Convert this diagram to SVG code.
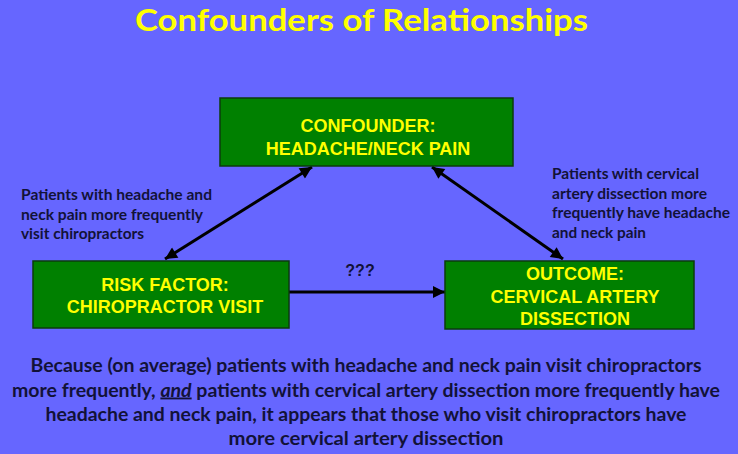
<svg xmlns="http://www.w3.org/2000/svg" width="738" height="454" viewBox="0 0 738 454">
<defs>
<style>
.bg{fill:#6666FF}
.box{fill:#008000;stroke:#0B3D0B;stroke-width:1.5}
.bt{font-family:"Liberation Sans",Arial,sans-serif;font-weight:bold;font-size:18px;fill:#FFFF00;text-anchor:middle}
.title{font-family:Lato,"Open Sans",sans-serif;font-weight:bold;font-size:30px;fill:#FFFF00;text-anchor:middle}
.lbl{font-family:Lato,"Open Sans",sans-serif;font-weight:bold;font-size:15px;fill:#121238}
.body{font-family:Lato,"Open Sans",sans-serif;font-weight:bold;font-size:19px;fill:#121238;text-anchor:middle}
.q{font-family:"Liberation Sans",Arial,sans-serif;font-weight:bold;font-size:16px;fill:#121238;text-anchor:middle}
.conn{stroke:#000;stroke-width:3;fill:none}
</style>
<marker id="ah" viewBox="0 0 10 10" refX="10" refY="5" markerWidth="5" markerHeight="4" orient="auto-start-reverse" markerUnits="strokeWidth">
<path d="M0,0 L10,5 L0,10 z" fill="#000"/>
</marker>
</defs>
<rect class="bg" x="0" y="0" width="738" height="454"/>
<text class="title" x="361.5" y="31" textLength="453" lengthAdjust="spacingAndGlyphs">Confounders of Relationships</text>

<g id="connectors">
<line class="conn" x1="165" y1="259" x2="312" y2="167" marker-start="url(#ah)" marker-end="url(#ah)"/>
<line class="conn" x1="432" y1="167" x2="563" y2="259" marker-start="url(#ah)" marker-end="url(#ah)"/>
<line class="conn" x1="289" y1="292" x2="445" y2="292" marker-end="url(#ah)"/>
<text class="q" x="360" y="276">???</text>
</g>

<g id="confounder">
<rect class="box" x="220" y="98" width="293" height="68"/>
<text class="bt" x="368" y="132">CONFOUNDER:</text>
<text class="bt" x="368" y="155">HEADACHE/NECK PAIN</text>
</g>

<g id="risk-factor">
<rect class="box" x="33" y="261" width="256" height="67"/>
<text class="bt" x="165" y="291">RISK FACTOR:</text>
<text class="bt" x="165" y="313">CHIROPRACTOR VISIT</text>
</g>

<g id="outcome">
<rect class="box" x="445" y="261" width="249" height="68"/>
<text class="bt" x="575" y="280">OUTCOME:</text>
<text class="bt" x="575" y="303">CERVICAL ARTERY</text>
<text class="bt" x="575" y="325">DISSECTION</text>
</g>

<g id="label-left">
<text class="lbl" x="21" y="200" textLength="191" lengthAdjust="spacingAndGlyphs">Patients with headache and</text>
<text class="lbl" x="21" y="220" textLength="182" lengthAdjust="spacingAndGlyphs">neck pain more frequently</text>
<text class="lbl" x="21" y="239" textLength="123" lengthAdjust="spacingAndGlyphs">visit chiropractors</text>
</g>

<g id="label-right">
<text class="lbl" x="552" y="179" textLength="147" lengthAdjust="spacingAndGlyphs">Patients with cervical</text>
<text class="lbl" x="552" y="199" textLength="155" lengthAdjust="spacingAndGlyphs">artery dissection more</text>
<text class="lbl" x="552" y="218" textLength="178" lengthAdjust="spacingAndGlyphs">frequently have headache</text>
<text class="lbl" x="552" y="238" textLength="94" lengthAdjust="spacingAndGlyphs">and neck pain</text>
</g>

<g id="explanation">
<text class="body" x="366" y="372" textLength="671" lengthAdjust="spacingAndGlyphs">Because (on average) patients with headache and neck pain visit chiropractors</text>
<text class="body" x="366" y="396.5" textLength="708" lengthAdjust="spacingAndGlyphs">more frequently, <tspan font-style="italic" text-decoration="underline">and</tspan> patients with cervical artery dissection more frequently have</text>
<text class="body" x="366" y="421" textLength="641" lengthAdjust="spacingAndGlyphs">headache and neck pain, it appears that those who visit chiropractors have</text>
<text class="body" x="366" y="445" textLength="275" lengthAdjust="spacingAndGlyphs">more cervical artery dissection</text>
</g>
</svg>
